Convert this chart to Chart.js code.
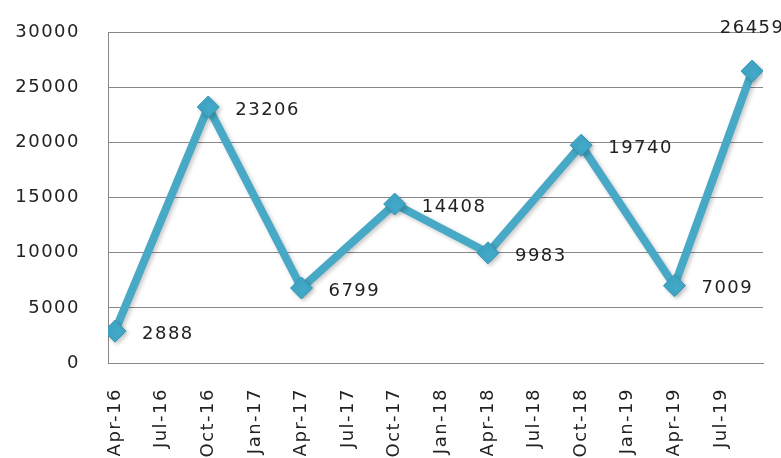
<!DOCTYPE html>
<html>
<head>
<meta charset="utf-8">
<script src="https://cdn.jsdelivr.net/npm/chart.js@4/dist/chart.umd.min.js"></script>
<style>
  body { margin: 0; background: #fff; }
  #wrap { width: 781px; height: 458px; }
</style>
</head>
<body>
<div id="wrap"><canvas id="c"></canvas></div>
<script>
var months = ['Apr-16', 'Oct-16', 'Apr-17', 'Oct-17', 'Apr-18', 'Oct-18', 'Apr-19', 'Sep-19'];
var values = [2888, 23206, 6799, 14408, 9983, 19740, 7009, 26459];
var tickLabels = ['Apr-16', 'Jul-16', 'Oct-16', 'Jan-17', 'Apr-17', 'Jul-17', 'Oct-17',
	'Jan-18', 'Apr-18', 'Jul-18', 'Oct-18', 'Jan-19', 'Apr-19', 'Jul-19'];
var yTicks = [0, 5000, 10000, 15000, 20000, 25000, 30000];

var monNames = ['Jan', 'Feb', 'Mar', 'Apr', 'May', 'Jun', 'Jul', 'Aug', 'Sep', 'Oct', 'Nov', 'Dec'];
// months counted from Apr-16
function monthIndex(s) {
	var p = s.split('-');
	return (parseInt(p[1], 10) - 16) * 12 + monNames.indexOf(p[0]) - 3;
}

var points = [];
for (var i = 0; i < months.length; i++) {
	points.push({x: monthIndex(months[i]), y: values[i]});
}

var FONT = '"DejaVu Sans", Verdana, sans-serif';
var TEXT = '#222222';

function spacing(chart) {
	chart.ctx.letterSpacing = '1.5px';
}

var labelPlugin = {
	id: 'pointLabels',
	beforeUpdate: spacing,
	beforeDraw: spacing,
	afterDatasetsDraw: function (chart) {
		var ctx = chart.ctx;
		var meta = chart.getDatasetMeta(0);
		ctx.save();
		ctx.font = '18px ' + FONT;
		ctx.fillStyle = TEXT;
		ctx.textBaseline = 'middle';
		for (var i = 0; i < meta.data.length; i++) {
			var pt = meta.data[i];
			var txt = String(values[i]);
			if (i == meta.data.length - 1) {
				ctx.textAlign = 'center';
				ctx.fillText(txt, pt.x, 28);
			} else {
				ctx.textAlign = 'left';
				ctx.fillText(txt, pt.x + 27, pt.y + 3);
			}
		}
		ctx.restore();
	}
};

var shadowPlugin = {
	id: 'lineShadow',
	beforeDatasetDraw: function (chart) {
		var ctx = chart.ctx;
		ctx.save();
		ctx.shadowColor = 'rgba(0,0,0,0.22)';
		ctx.shadowBlur = 4;
		ctx.shadowOffsetX = 2;
		ctx.shadowOffsetY = 2;
	},
	afterDatasetDraw: function (chart) {
		chart.ctx.restore();
	}
};

new Chart(document.getElementById('c'), {
	type: 'line',
	data: {
		datasets: [{
			data: points,
			borderColor: '#47a9c6',
			borderWidth: 8,
			tension: 0,
			pointStyle: 'rectRot',
			pointRadius: 11,
			pointHoverRadius: 11,
			pointBackgroundColor: '#42a8c8',
			pointBorderColor: '#3196b6',
			pointBorderWidth: 1
		}]
	},
	options: {
		responsive: true,
		maintainAspectRatio: false,
		animation: false,
		events: [],
		layout: {padding: {left: 0, right: 18, top: 32, bottom: 0}},
		plugins: {legend: {display: false}, tooltip: {enabled: false}},
		scales: {
			x: {
				type: 'linear',
				min: -0.45,
				max: 41.7,
				afterBuildTicks: function (scale) {
					scale.ticks = tickLabels.map(function (l, i) { return {value: i * 3}; });
				},
				afterFit: function (scale) { scale.height = 95; },
				grid: {display: false},
				border: {display: true, color: '#888888'},
				ticks: {
					autoSkip: false,
					minRotation: 90,
					maxRotation: 90,
					padding: 17,
					color: TEXT,
					font: {family: FONT, size: 18},
					callback: function (v) { return tickLabels[Math.round(v / 3)]; }
				}
			},
			y: {
				min: 0,
				max: 30000,
				afterBuildTicks: function (scale) {
					scale.ticks = yTicks.map(function (v) { return {value: v}; });
				},
				afterFit: function (scale) {
					scale.width = 108;
					scale.paddingTop = 0;
					scale.paddingBottom = 0;
				},
				grid: {color: '#888888', drawTicks: false},
				border: {display: true, color: '#888888'},
				ticks: {
					padding: 28,
					color: TEXT,
					font: {family: FONT, size: 18},
					callback: function (v) { return String(v); }
				}
			}
		}
	},
	plugins: [labelPlugin, shadowPlugin]
});
</script>
</body>
</html>
